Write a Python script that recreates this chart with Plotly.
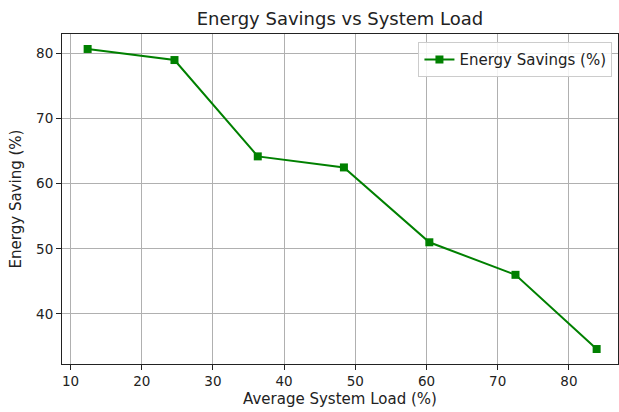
import plotly.graph_objects as go

# Average system load (%) and measured energy savings (%)
load_pct = [12.4, 24.6, 36.3, 48.4, 60.4, 72.5, 83.9]
savings_pct = [80.7, 79.0, 64.2, 62.5, 51.0, 46.0, 34.6]

FONT = "DejaVu Sans"
GREEN = "#008000"

fig = go.Figure()
fig.add_trace(go.Scatter(
    x=load_pct,
    y=savings_pct,
    mode="lines+markers",
    name="Energy Savings (%)",
    line=dict(color=GREEN, width=2),
    marker=dict(symbol="square", size=8, color=GREEN),
))

axis_common = dict(
    showgrid=True,
    gridcolor="#b0b0b0",
    gridwidth=1,
    showline=True,
    linecolor="#222222",
    linewidth=1,
    mirror=True,
    ticks="outside",
    ticklen=5,
    tickwidth=1,
    tickcolor="#222222",
    tickfont=dict(family=FONT, size=13.5, color="#222222"),
    zeroline=False,
    dtick=10,
)

fig.update_layout(
    width=619,
    height=412,
    margin=dict(l=62, r=1, t=34, b=48),
    plot_bgcolor="white",
    paper_bgcolor="white",
    font=dict(family=FONT, color="#222222"),
    title=dict(
        text="Energy Savings vs System Load",
        x=(62 + 618) / 2 / 619,
        xanchor="center",
        y=1 - 19 / 412,
        yanchor="middle",
        font=dict(family=FONT, size=18, color="#222222"),
    ),
    xaxis=dict(
        axis_common,
        range=[8.8, 86.9],
        tick0=10,
        title=dict(text="Average System Load (%)", font=dict(family=FONT, size=15), standoff=5),
    ),
    yaxis=dict(
        axis_common,
        range=[32.3, 83.0],
        tick0=40,
        title=dict(text="Energy Saving (%)", font=dict(family=FONT, size=15), standoff=10),
    ),
    legend=dict(
        x=0.99,
        y=0.975,
        xanchor="right",
        yanchor="top",
        bgcolor="rgba(255,255,255,0.85)",
        bordercolor="#cccccc",
        borderwidth=1,
        font=dict(family=FONT, size=15, color="#222222"),
    ),
    showlegend=True,
)

fig.write_html("out.html")
